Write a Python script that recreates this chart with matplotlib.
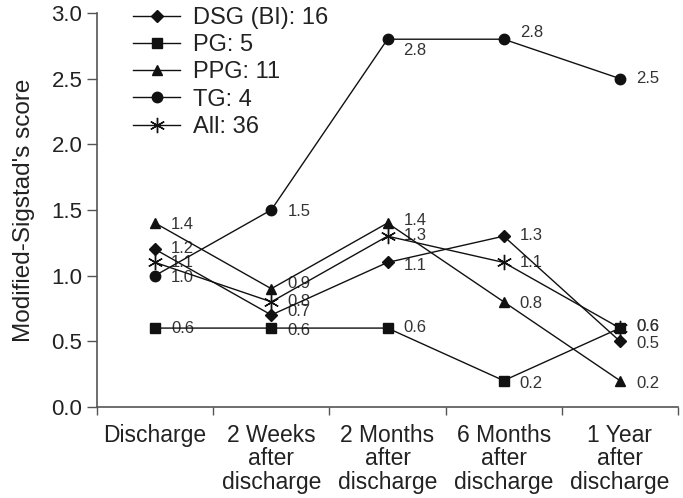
import numpy as np
import matplotlib.pyplot as plt

plt.rcParams['font.family'] = ['Liberation Sans', 'DejaVu Sans']

categories = ['Discharge', '2 Weeks\nafter\ndischarge', '2 Months\nafter\ndischarge',
              '6 Months\nafter\ndischarge', '1 Year\nafter\ndischarge']
series_names = ['DSG (BI): 16', 'PG: 5', 'PPG: 11', 'TG: 4', 'All: 36']
dsg = [1.2, 0.7, 1.1, 1.3, 0.5]
pg = [0.6, 0.6, 0.6, 0.2, 0.6]
ppg = [1.4, 0.9, 1.4, 0.8, 0.2]
tg = [1.0, 1.5, 2.8, 2.8, 2.5]
all_pts = [1.1, 0.8, 1.3, 1.1, 0.6]

series = [dsg, pg, ppg, tg, all_pts]
markers = ['D', 's', '^', 'o', (6, 2, 0)]
msizes = [6.5, 6.5, 7.5, 7.5, 11]

# vertical nudge of the value labels (pixels, positive = down)
label_dy = [
    [-1, -3, 3, -1, 2],    # DSG
    [0, 2, -1, 3, -2],     # PG
    [1, -5, -3, 2, 3],     # PPG
    [2, 2, 11, -7, 0],     # TG
    [0, 0, -1, 0, -2],     # All (1 Year label sits on top of PG's)
]

fig = plt.figure(figsize=(6.83, 4.98), dpi=100)
ax = fig.add_axes([0.142, 0.183, 0.8507, 0.791])

x = np.arange(len(categories))
for vals, name, m, ms, dys in zip(series, series_names, markers, msizes, label_dy):
    ax.plot(x, vals, color='#111111', lw=1.0, marker=m, markersize=ms,
            markeredgewidth=1.0, label=name, zorder=3)
    for xi, v, dy in zip(x, vals, dys):
        ax.annotate(f'{v:.1f}', (xi, v), xytext=(11.5, -dy * 0.72),
                    textcoords='offset points', ha='left', va='center',
                    fontsize=12, color='#333333', zorder=1)

ax.set_xlim(-0.5, 4.5)
ax.set_ylim(0, 3.0)
ax.set_yticks(np.arange(0, 3.01, 0.5))
ax.set_yticklabels([f'{t:.1f}' for t in np.arange(0, 3.01, 0.5)])
ax.set_xticks(x)
ax.set_xticklabels(categories, linespacing=1.05)
ax.set_xticks(np.arange(-0.5, 4.6, 1), minor=True)
ax.tick_params(axis='x', which='major', length=0, pad=12, labelsize=16.5, colors='#222222')
ax.tick_params(axis='x', which='minor', length=6, width=1, color='#555555')
ax.tick_params(axis='y', length=7, width=1, labelsize=16, colors='#222222', color='#555555')
ax.set_ylabel("Modified-Sigstad's score", fontsize=17.5, color='#222222', labelpad=12)

for s in ['top', 'right']:
    ax.spines[s].set_visible(False)
for s in ['left', 'bottom']:
    ax.spines[s].set_color('#555555')
    ax.spines[s].set_linewidth(1.2)

ax.legend(loc='upper left', bbox_to_anchor=(0.062, 1.015), frameon=False,
          fontsize=17, handlelength=2.0, handletextpad=0.55, labelspacing=0.22,
          borderpad=0, borderaxespad=0, labelcolor='#222222')

fig.savefig('out.png', dpi=100)
